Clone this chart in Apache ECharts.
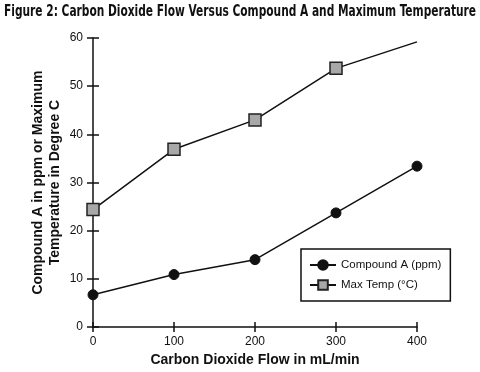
<!DOCTYPE html>
<html><head><meta charset="utf-8">
<script src="https://cdn.jsdelivr.net/npm/echarts@6/dist/echarts.min.js"></script>
<style>html,body{margin:0;padding:0;background:#fff}#c{width:480px;height:372px}</style>
</head><body><div id="c"></div>
<script>
const flow = [0, 100, 200, 300, 400];
const compoundA = [6.7, 10.9, 14.0, 23.7, 33.4];
const maxTemp = [24.4, 36.9, 43.0, 53.7, 59.2];
const xTicks = [0, 100, 200, 300, 400];
const yTicks = [0, 10, 20, 30, 40, 50, 60];
const titleText = 'Figure 2: Carbon Dioxide Flow Versus Compound A and Maximum Temperature';

const chart = echarts.init(document.getElementById('c'));
const fontFam = '"Liberation Sans", Arial, sans-serif';
const tempData = flow.map((x, i) => ({value: [x, maxTemp[i]], symbol: i === flow.length - 1 ? 'none' : 'rect'}));

// measure title to fit width 472
const cv = document.createElement('canvas').getContext('2d');
const titleFont = 'bold 16px "DejaVu Sans Condensed", "Liberation Sans", sans-serif';
cv.font = titleFont;
const tw = cv.measureText(titleText).width;
const sx = 472 / tw;

chart.setOption({
  animation: false,
  graphic: [{
    type: 'text', left: 4, top: 4, scaleX: sx, scaleY: 1,
    style: {text: titleText, font: titleFont, fill: '#111'}
  }],
  grid: {left: 93, right: 63, top: 38, bottom: 43},
  legend: {
    orient: 'vertical', left: 301, top: 249,
    padding: [10, 9, 10, 8], itemGap: 8,
    borderColor: '#111', borderWidth: 1.5, itemWidth: 26, itemHeight: 12,
    textStyle: {fontFamily: fontFam, fontSize: 11.5, color: '#111'},
    data: ['Compound A (ppm)', 'Max Temp (°C)']
  },
  xAxis: [{
    type: 'value', min: 0, max: 400, interval: 100,
    name: 'Carbon Dioxide Flow in mL/min', nameLocation: 'middle', nameGap: 25,
    nameTextStyle: {fontFamily: fontFam, fontWeight: 'bold', fontSize: 14, color: '#111'},
    axisLine: {show: true, lineStyle: {color: '#111', width: 1.5}},
    axisTick: {show: true, length: 5, lineStyle: {color: '#111', width: 1.5}},
    axisLabel: {fontFamily: fontFam, fontSize: 12, color: '#111', margin: 9,
      formatter: v => xTicks.includes(v) ? String(v) : ''},
    splitLine: {show: false}
  }, {
    type: 'value', min: 0, max: 400, interval: 100, position: 'bottom',
    axisLine: {show: false},
    axisTick: {show: true, inside: true, length: 5, lineStyle: {color: '#111', width: 1.5}},
    axisLabel: {show: false}, splitLine: {show: false}
  }],
  yAxis: [{
    type: 'value', min: 0, max: 60, interval: 10,
    name: 'Compound A in ppm or Maximum\nTemperature in Degree C', nameLocation: 'middle', nameGap: 29,
    nameMoveOverlap: false,
    nameTextStyle: {fontFamily: fontFam, fontWeight: 'bold', fontSize: 14, color: '#111', lineHeight: 17},
    axisLine: {show: true, lineStyle: {color: '#111', width: 1.5}},
    axisTick: {show: true, length: 6, lineStyle: {color: '#111', width: 1.5}},
    axisLabel: {fontFamily: fontFam, fontSize: 12, color: '#111', margin: 10,
      formatter: v => yTicks.includes(v) ? String(v) : ''},
    splitLine: {show: false}
  }, {
    type: 'value', min: 0, max: 60, interval: 10, position: 'left',
    axisLine: {show: false},
    axisTick: {show: true, inside: true, length: 6, lineStyle: {color: '#111', width: 1.5}},
    axisLabel: {show: false}, splitLine: {show: false}
  }],
  series: [{
    name: 'Compound A (ppm)', type: 'line',
    data: flow.map((x, i) => [x, compoundA[i]]),
    symbol: 'circle', symbolSize: 10,
    lineStyle: {color: '#111', width: 1.5},
    itemStyle: {color: '#111', borderColor: '#111', borderWidth: 1}
  }, {
    name: 'Max Temp (°C)', type: 'line',
    data: tempData,
    symbol: 'rect', symbolSize: 12,
    lineStyle: {color: '#111', width: 1.5},
    itemStyle: {color: '#a8a8a8', borderColor: '#222', borderWidth: 1.5}
  }]
});
</script></body></html>
